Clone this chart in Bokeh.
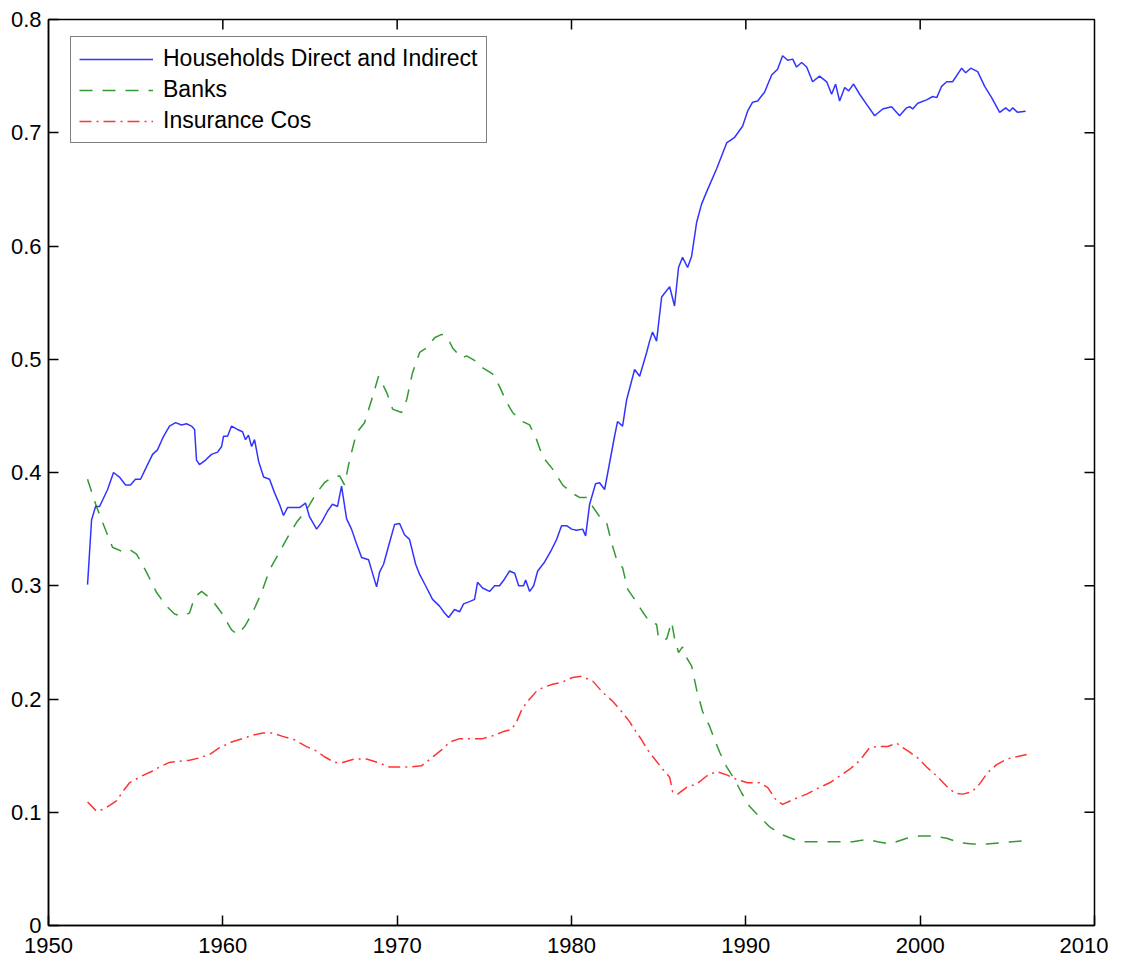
import math
from bokeh.plotting import figure
from bokeh.models import (FixedTicker, NumeralTickFormatter, Legend,
                          LegendItem, Range1d, BasicTickFormatter)
from bokeh.embed import file_html
from bokeh.resources import INLINE

# ---------------- data ----------------
hh_years = [1952.24, 1952.47, 1952.70, 1952.93, 1953.39, 1953.73, 1954.07, 1954.42, 1954.70, 1954.99,
            1955.28, 1955.62, 1955.97, 1956.25, 1956.60, 1956.94, 1957.29, 1957.63, 1957.92, 1958.20,
            1958.38, 1958.49, 1958.66, 1959.01, 1959.35, 1959.70, 1959.93, 1960.04, 1960.27, 1960.50,
            1960.84, 1961.13, 1961.30, 1961.47, 1961.65, 1961.82, 1962.05, 1962.34, 1962.68, 1962.97,
            1963.25, 1963.48, 1963.71, 1964.06, 1964.40, 1964.74, 1964.97, 1965.38, 1965.66, 1966.01,
            1966.29, 1966.58, 1966.81, 1967.10, 1967.38, 1967.67, 1967.96, 1968.36, 1968.53, 1968.82,
            1968.99, 1969.22, 1969.56, 1969.85, 1970.14, 1970.42, 1970.71, 1971.06, 1971.29, 1971.63,
            1972.03, 1972.43, 1972.72, 1972.95, 1973.29, 1973.58, 1973.81, 1974.15, 1974.44, 1974.61,
            1974.90, 1975.30, 1975.59, 1975.87, 1976.16, 1976.45, 1976.74, 1976.97, 1977.25, 1977.37,
            1977.60, 1977.83, 1978.06, 1978.46, 1978.86, 1979.15, 1979.43, 1979.72, 1980.01, 1980.29,
            1980.64, 1980.81, 1981.04, 1981.38, 1981.61, 1981.90, 1982.47, 1982.64, 1982.93, 1983.16,
            1983.62, 1983.91, 1984.31, 1984.48, 1984.65, 1984.88, 1985.17, 1985.63, 1985.91, 1986.14,
            1986.37, 1986.66, 1986.89, 1987.18, 1987.46, 1987.81, 1988.32, 1988.90, 1989.36, 1989.82,
            1990.10, 1990.39, 1990.68, 1991.08, 1991.48, 1991.82, 1992.11, 1992.40, 1992.69, 1992.91,
            1993.20, 1993.49, 1993.83, 1994.23, 1994.64, 1994.92, 1995.15, 1995.38, 1995.67, 1995.90,
            1996.18, 1996.53, 1996.93, 1997.39, 1997.85, 1998.36, 1998.82, 1999.22, 1999.40, 1999.57,
            1999.86, 2000.37, 2000.72, 2000.95, 2001.23, 2001.52, 2001.86, 2002.38, 2002.61, 2002.90,
            2003.30, 2003.70, 2004.10, 2004.56, 2004.91, 2005.13, 2005.31, 2005.59, 2006.05]
hh_values = [0.301, 0.358, 0.370, 0.370, 0.385, 0.400, 0.396, 0.389, 0.389, 0.394,
             0.394, 0.405, 0.416, 0.420, 0.432, 0.441, 0.444, 0.442, 0.443, 0.441,
             0.438, 0.411, 0.407, 0.411, 0.416, 0.418, 0.423, 0.432, 0.432, 0.441,
             0.438, 0.436, 0.429, 0.433, 0.423, 0.429, 0.410, 0.396, 0.394, 0.382,
             0.372, 0.362, 0.369, 0.369, 0.369, 0.373, 0.361, 0.350, 0.356, 0.366,
             0.372, 0.370, 0.388, 0.359, 0.350, 0.337, 0.325, 0.323, 0.314, 0.299,
             0.312, 0.319, 0.338, 0.354, 0.355, 0.345, 0.341, 0.319, 0.310, 0.300,
             0.288, 0.282, 0.276, 0.272, 0.279, 0.277, 0.284, 0.286, 0.288, 0.303,
             0.298, 0.295, 0.300, 0.300, 0.306, 0.313, 0.311, 0.300, 0.300, 0.305,
             0.295, 0.300, 0.313, 0.321, 0.332, 0.341, 0.353, 0.353, 0.350, 0.349,
             0.350, 0.344, 0.372, 0.390, 0.391, 0.385, 0.432, 0.445, 0.441, 0.464,
             0.491, 0.485, 0.506, 0.516, 0.524, 0.516, 0.555, 0.564, 0.547, 0.581,
             0.590, 0.581, 0.591, 0.621, 0.637, 0.650, 0.668, 0.691, 0.696, 0.706,
             0.719, 0.727, 0.728, 0.736, 0.751, 0.756, 0.768, 0.764, 0.765, 0.758,
             0.762, 0.758, 0.745, 0.750, 0.745, 0.734, 0.743, 0.728, 0.740, 0.737,
             0.743, 0.734, 0.725, 0.715, 0.721, 0.723, 0.715, 0.722, 0.723, 0.721,
             0.726, 0.729, 0.732, 0.731, 0.741, 0.745, 0.745, 0.757, 0.753, 0.757,
             0.754, 0.741, 0.731, 0.718, 0.722, 0.719, 0.722, 0.718, 0.719]

bank_years = [1952.24, 1952.75, 1953.10, 1953.67, 1954.25, 1954.65, 1955.05, 1955.62, 1956.20, 1956.77,
              1957.23, 1957.69, 1958.09, 1958.38, 1958.78, 1959.35, 1959.93, 1960.50, 1960.84, 1961.25,
              1961.70, 1962.22, 1962.68, 1963.08, 1963.65, 1964.23, 1964.80, 1965.38, 1965.83, 1966.29,
              1966.70, 1966.98, 1967.27, 1967.67, 1968.13, 1968.59, 1968.93, 1969.39, 1969.74, 1970.25,
              1970.54, 1970.88, 1971.29, 1971.69, 1972.15, 1972.55, 1972.89, 1973.18, 1973.70, 1973.98,
              1974.56, 1974.84, 1975.47, 1975.87, 1976.28, 1976.62, 1977.19, 1977.60, 1978.00, 1978.34,
              1978.92, 1979.49, 1980.01, 1980.46, 1980.87, 1981.21, 1981.61, 1982.01, 1982.30, 1982.59,
              1982.93, 1983.22, 1983.62, 1984.08, 1984.48, 1984.88, 1985.00, 1985.46, 1985.74, 1985.92,
              1986.14, 1986.37, 1986.55, 1986.89, 1987.18, 1987.52, 1987.92, 1988.21, 1988.50, 1988.90,
              1989.36, 1989.76, 1990.22, 1990.79, 1991.37, 1992.11, 1993.09, 1993.66, 1994.64, 1995.38,
              1996.13, 1996.93, 1997.56, 1998.25, 1999.23, 1999.97, 2000.72, 2001.52, 2002.27, 2003.01,
              2003.82, 2004.56, 2005.31, 2006.11]
bank_values = [0.394, 0.370, 0.356, 0.334, 0.330, 0.332, 0.328, 0.312, 0.294, 0.282,
               0.275, 0.273, 0.276, 0.290, 0.295, 0.288, 0.276, 0.261, 0.257, 0.264,
               0.276, 0.294, 0.314, 0.325, 0.341, 0.356, 0.367, 0.382, 0.391, 0.396,
               0.397, 0.389, 0.411, 0.435, 0.444, 0.467, 0.485, 0.471, 0.456, 0.453,
               0.464, 0.488, 0.506, 0.510, 0.519, 0.522, 0.519, 0.510, 0.501, 0.503,
               0.498, 0.493, 0.487, 0.476, 0.462, 0.453, 0.445, 0.442, 0.429, 0.414,
               0.403, 0.389, 0.382, 0.378, 0.378, 0.370, 0.361, 0.356, 0.338, 0.323,
               0.316, 0.297, 0.288, 0.277, 0.268, 0.266, 0.253, 0.253, 0.268, 0.253,
               0.241, 0.246, 0.238, 0.229, 0.208, 0.189, 0.176, 0.164, 0.153, 0.140,
               0.129, 0.117, 0.105, 0.096, 0.087, 0.080, 0.074, 0.074, 0.074, 0.074,
               0.074, 0.076, 0.074, 0.072, 0.077, 0.079, 0.079, 0.077, 0.073, 0.072,
               0.072, 0.073, 0.074, 0.075]

ins_years = [1952.24, 1952.75, 1953.21, 1953.90, 1954.25, 1954.65, 1955.34, 1955.91, 1956.37, 1956.94,
             1957.52, 1958.09, 1958.66, 1959.24, 1959.81, 1960.50, 1961.13, 1961.70, 1962.28, 1962.85,
             1963.43, 1964.11, 1964.80, 1965.38, 1965.83, 1966.41, 1966.87, 1967.56, 1968.24, 1968.88,
             1969.56, 1970.14, 1970.71, 1971.40, 1971.97, 1972.55, 1973.01, 1973.58, 1974.27, 1974.90,
             1975.59, 1976.05, 1976.56, 1976.85, 1977.19, 1977.60, 1978.00, 1978.34, 1978.92, 1979.49,
             1980.06, 1980.58, 1981.21, 1981.78, 1982.36, 1982.87, 1983.33, 1983.62, 1984.02, 1984.37,
             1984.77, 1985.23, 1985.63, 1985.80, 1986.09, 1986.60, 1987.18, 1987.75, 1988.32, 1988.90,
             1989.47, 1990.10, 1990.79, 1991.25, 1991.77, 1992.11, 1992.69, 1993.49, 1994.23, 1994.81,
             1995.38, 1995.96, 1996.41, 1996.70, 1997.10, 1997.56, 1998.14, 1998.65, 1999.00, 1999.40,
             1999.86, 2000.37, 2000.95, 2001.52, 2001.98, 2002.44, 2002.96, 2003.41, 2003.87, 2004.39,
             2004.96, 2005.54, 2006.11]
ins_values = [0.109, 0.101, 0.103, 0.110, 0.118, 0.126, 0.132, 0.136, 0.140, 0.144,
              0.145, 0.146, 0.148, 0.151, 0.157, 0.162, 0.165, 0.168, 0.170, 0.170,
              0.167, 0.164, 0.158, 0.154, 0.149, 0.144, 0.144, 0.147, 0.147, 0.144,
              0.140, 0.140, 0.140, 0.141, 0.148, 0.155, 0.162, 0.165, 0.165, 0.165,
              0.168, 0.171, 0.173, 0.180, 0.192, 0.200, 0.207, 0.210, 0.213, 0.215,
              0.219, 0.220, 0.216, 0.206, 0.198, 0.189, 0.180, 0.173, 0.164, 0.155,
              0.147, 0.138, 0.131, 0.118, 0.116, 0.122, 0.125, 0.132, 0.136, 0.133,
              0.129, 0.126, 0.126, 0.122, 0.110, 0.107, 0.111, 0.116, 0.122, 0.126,
              0.132, 0.138, 0.144, 0.149, 0.157, 0.158, 0.158, 0.161, 0.157, 0.153,
              0.148, 0.140, 0.132, 0.123, 0.117, 0.116, 0.118, 0.125, 0.135, 0.142,
              0.147, 0.149, 0.151]

series_labels = ["Households Direct and Indirect", "Banks", "Insurance Cos"]
x_ticks = [1950, 1960, 1970, 1980, 1990, 2000, 2010]
y_ticks = [0, 0.1, 0.2, 0.3, 0.4, 0.5, 0.6, 0.7, 0.8]

FONT = "Liberation Sans"

p = figure(frame_width=1046, frame_height=906,
           x_range=Range1d(1950, 2010), y_range=Range1d(0, 0.8),
           output_backend="svg", toolbar_location=None,
           min_border_left=48, min_border_top=19, min_border_right=14, min_border_bottom=36,
           background_fill_color="white", border_fill_color="white")
p.xgrid.visible = False
p.ygrid.visible = False
p.outline_line_color = "black"
p.outline_line_width = 1.5
p.outline_line_alpha = 1.0

r1 = p.line(hh_years, hh_values, line_color="#0000ff", line_width=1.5, line_alpha=0.8)
r2 = p.line(bank_years, bank_values, line_color="#008000", line_width=1.5, line_alpha=0.8,
            line_dash="13 10")
r3 = p.line(ins_years, ins_values, line_color="#ff0000", line_width=1.5, line_alpha=0.8,
            line_dash="12 5 2 5")

# inward tick marks on the top and right edges of the box (MATLAB style)
p.scatter(x_ticks[1:-1], [y_ticks[-1]] * (len(x_ticks) - 2), marker="dash", size=20,
          angle=math.pi / 2, line_color="black", line_width=1.5)
p.scatter([x_ticks[-1]] * (len(y_ticks) - 2), y_ticks[1:-1], marker="dash", size=20,
          angle=0, line_color="black", line_width=1.5)

for ax in (p.xaxis[0], p.yaxis[0]):
    ax.axis_line_color = "black"
    ax.axis_line_width = 1.5
    ax.major_tick_in = 10
    ax.major_tick_out = 0
    ax.major_tick_line_color = "black"
    ax.major_tick_line_width = 1.5
    ax.minor_tick_line_color = None
    ax.major_label_text_font = FONT
    ax.major_label_text_color = "black"
    ax.major_label_text_font_size = "22px"

p.xaxis.ticker = FixedTicker(ticks=x_ticks)
p.yaxis.ticker = FixedTicker(ticks=y_ticks)
p.yaxis.formatter = NumeralTickFormatter(format="0.[0]")
p.xaxis.formatter = BasicTickFormatter(use_scientific=False)
p.xaxis.major_label_standoff = 12
p.yaxis.major_label_standoff = 7

legend = Legend(items=[LegendItem(label=series_labels[0], renderers=[r1]),
                       LegendItem(label=series_labels[1], renderers=[r2]),
                       LegendItem(label=series_labels[2], renderers=[r3])],
                location=(22, 782))
legend.border_line_color = "black"
legend.border_line_width = 1.5
legend.background_fill_color = "white"
legend.background_fill_alpha = 1.0
legend.label_text_font = FONT
legend.label_text_font_size = "23px"
legend.label_text_color = "black"
legend.glyph_width = 74
legend.glyph_height = 22
legend.label_height = 22
legend.spacing = 4
legend.padding = 8
legend.label_standoff = 10
legend.margin = 0
p.add_layout(legend)

open("out.html", "w").write(file_html(p, INLINE))
